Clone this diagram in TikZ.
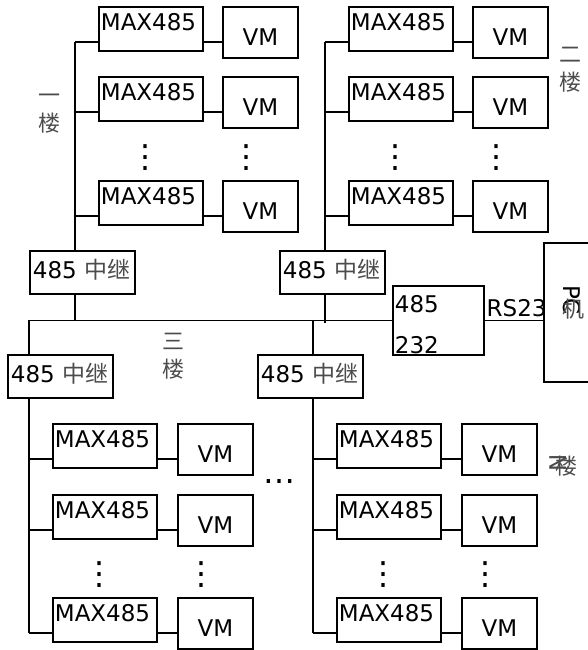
\documentclass[tikz,border=0pt]{standalone}
\usepackage{fontspec}
\setmainfont{DejaVu Sans}
\newfontfamily\cjk{Noto Sans CJK SC}
\usetikzlibrary{positioning,calc}

\newcommand\zh[1]{{\cjk\color{black!70}#1}}

\tikzset{
  maxbox/.style={draw,anchor=north west,text width=100pt,inner xsep=2pt,inner ysep=0pt,
                 text height=24pt,text depth=20pt,align=left},
  vmbox/.style={draw,anchor=north west,minimum width=75pt,inner sep=0pt,
                text height=39pt,text depth=12pt},
  relay/.style={draw,anchor=north west,text width=99pt,inner xsep=3pt,inner ysep=0pt,
                text height=28pt,text depth=15pt,align=left},
  floorlbl/.style={align=center,text=black!70,font=\cjk\fontsize{22}{28}\selectfont},
  dotmark/.style={inner sep=0pt,font=\fontsize{32}{32}\selectfont}
}

\begin{document}
\begin{tikzpicture}[x=1pt,y=-1pt,line width=1.8pt,
  every node/.append style={font=\fontsize{23}{26}\selectfont}]
\useasboundingbox (0,0) rectangle (587,650);

% repeaters and converter
\node[relay] (rA) at (29,250)  {485 \zh{中继}};
\node[relay] (rB) at (279,250) {485 \zh{中继}};
\node[relay] (rC) at (7,354)   {485 \zh{中继}};
\node[relay] (rD) at (257,354) {485 \zh{中继}};
\node[draw,anchor=north west,text width=87pt,inner xsep=2pt,inner ysep=0pt,
      text height=27pt,text depth=42pt,align=left,font=\fontsize{23}{41}\selectfont]
      (conv) at (392,285) {485\\232};
\node[draw,anchor=north west,minimum width=70pt,minimum height=139pt] (pc) at (543,242) {};
\node[anchor=base west,inner sep=0pt] (rs) at ([xshift=1pt,yshift=3.5pt]conv.east) {RS23};
\node[rotate=-90,inner sep=0pt] (pcname) at (572,300) {PC};
\node[inner sep=0pt,font=\cjk\fontsize{22}{26}\selectfont,text=black!70] (pcji) at (573,309) {机};

% floors
\foreach \g/\bx/\mx/\vx/\ya/\yb/\yc in {A/75/98/222/6/76/180, B/325/348/472/6/76/180,
                                         C/29/52/177/423/494/597, D/313/336/461/423/494/597}{
  \foreach \r/\y in {1/\ya,2/\yb,3/\yc}{
    \node[maxbox] (m\g\r) at (\mx,\y) {MAX485};
    \node[vmbox]  (v\g\r) at (\vx,\y) {VM};
    \coordinate (p\g\r) at (\bx,\y+36);
    \draw (p\g\r) -- (m\g\r.west |- p\g\r);
    \draw (m\g\r.east |- p\g\r) -- (v\g\r.west |- p\g\r);
  }
  \node[dotmark] (dm\g) at (\mx+47,\yc-22) {⋮};
  \node[dotmark] (dv\g) at (\vx+24,\yc-22) {⋮};
}
\node[dotmark] (more) at (279,482) {…};

% buses
\draw (pA1) -- (pA1 |- rA.north);
\draw (pB1) -- (pB1 |- rB.north);
\draw (pC3) -- (pC3 |- rC.south);
\draw (pD3) -- (pD3 |- rD.south);
\draw (pC1 |- conv.west) -- (conv.west);
\draw (pA1 |- rA.south) -- (pA1 |- conv.west);
\draw (pB1 |- rB.south) -- ([yshift=-3pt]pB1 |- conv.west);
\draw (pC1 |- conv.west) -- (pC1 |- rC.north);
\draw (pD1 |- conv.west) -- (pD1 |- rD.north);
\draw (conv.east) -- (conv.east -| pc.west);

% floor labels
\node[floorlbl] (fA) at (49,114)  {一\\楼};
\node[floorlbl] (fB) at (570,70)  {二\\楼};
\node[floorlbl] (fC) at (173,356) {三\\楼};
\node[floorlbl] (fD) at (566,466) {楼};
\node[rotate=90,inner sep=0pt,text=black!70] (fDn) at (558,463) {N};
\end{tikzpicture}
\end{document}
